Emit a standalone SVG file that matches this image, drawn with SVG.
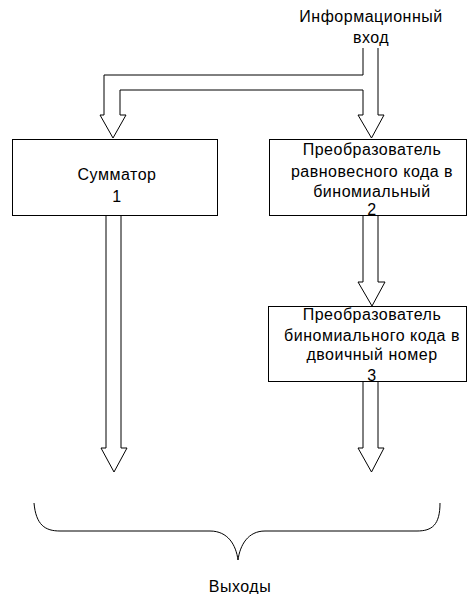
<svg xmlns="http://www.w3.org/2000/svg" width="468" height="594" viewBox="0 0 468 594">
<style>
.box{fill:#fff;stroke:#000;stroke-width:1}
.arr{fill:#fff;stroke:#000;stroke-width:1;stroke-linejoin:miter}
.br{fill:none;stroke:#000;stroke-width:1}
text{font-family:"Liberation Sans",Arial,sans-serif;font-size:16px;letter-spacing:0.5px;fill:#000;text-anchor:middle}
</style>
<rect width="468" height="594" fill="#fff"/>
<g id="input-label">
<text x="371" y="22">Информационный</text>
<text x="371" y="43">вход</text>
</g>
<g id="connectors">
<path class="arr" d="M378,48 L378,115 L384,115 L371.5,138 L358,115 L363,115 L363,90 L120,90 L120,115 L126,115 L113,138 L100,115 L104,115 L104,75 L363,75 L363,48"/>
<path class="arr" d="M106,215 L106,448 L101,448 L114,472 L127,448 L121,448 L121,215"/>
<path class="arr" d="M363,215 L363,282 L358,282 L372,306 L385,282 L378,282 L378,215"/>
<path class="arr" d="M363,382 L363,448 L358,448 L371.5,472 L384,448 L378,448 L378,382"/>
</g>
<g id="node1">
<rect class="box" x="12.5" y="139.5" width="205" height="76"/>
<text x="117" y="180">Сумматор</text>
<text x="117" y="202">1</text>
</g>
<g id="node2">
<rect class="box" x="269.5" y="139.5" width="197" height="76"/>
<text x="372" y="155">Преобразователь</text>
<text x="372" y="177">равновесного кода в</text>
<text x="372" y="197">биномиальный</text>
<text x="372" y="215">2</text>
</g>
<g id="node3">
<rect class="box" x="268.5" y="306.5" width="198" height="75"/>
<text x="372" y="320">Преобразователь</text>
<text x="372" y="341">биномиального кода в</text>
<text x="372" y="360">двоичный номер</text>
<text x="372" y="381">3</text>
</g>
<g id="brace">
<path class="br" d="M34,503 C36,525 45,531 60,531 L210,531 C228,531 236,545 238,560 C240,545 248,531 265,531 L417,531 C432,531 440,525 440,503"/>
<text x="240" y="592">Выходы</text>
</g>
</svg>
